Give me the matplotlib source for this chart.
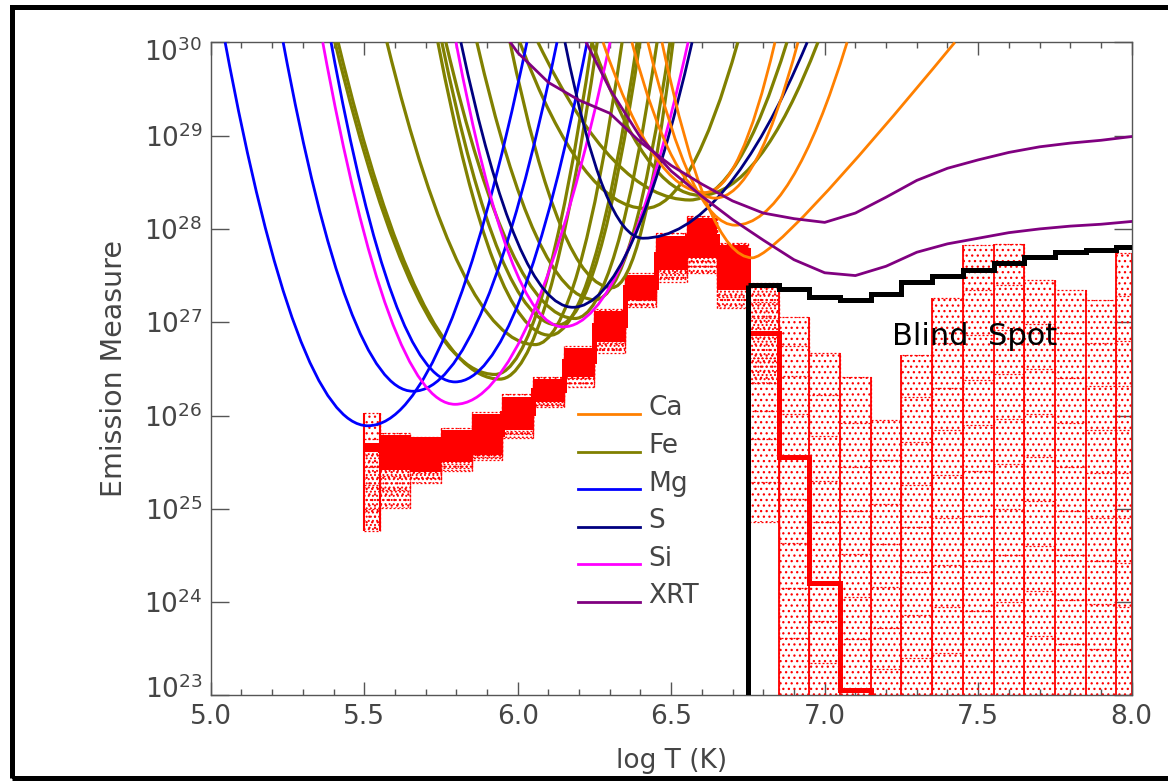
import numpy as np
import matplotlib
matplotlib.use("Agg")
import matplotlib.pyplot as plt
import matplotlib.transforms as mtrans
from matplotlib.path import Path
from matplotlib.patches import PathPatch, Rectangle
from matplotlib.lines import Line2D
from matplotlib.legend_handler import HandlerBase
from matplotlib.ticker import FixedLocator, MultipleLocator, NullLocator, FuncFormatter

# ---------------- data (log T, log EM) ----------------
bin_logT = [5.5, 5.6, 5.7, 5.8, 5.9, 6.0, 6.1, 6.2, 6.3, 6.4, 6.5, 6.6, 6.7,
            6.8, 6.9, 7.0, 7.1, 7.2, 7.3, 7.4, 7.5, 7.6, 7.7, 7.8, 7.9, 8.0]
# best-fit DEM (log EM); 22 = below plot range
dem_best = [25.66, 25.63, 25.58, 25.67, 25.80, 26.03, 26.27, 26.58, 26.97, 27.38, 27.73, 27.92, 27.77,
            26.88, 25.56, 24.21, 23.06, 22.0, 22.0, 22.0, 22.0, 22.0, 22.0, 22.0, 22.0, 22.0]
# dense core of the Monte-Carlo solutions (first 13 bins)
core_hi = [25.71, 25.79, 25.77, 25.84, 26.02, 26.20, 26.39, 26.72, 27.12, 27.51, 27.92, 28.12, 27.83]
core_lo = [25.61, 25.42, 25.39, 25.50, 25.58, 25.85, 26.15, 26.41, 26.79, 27.24, 27.56, 27.69, 27.34]
# Monte-Carlo solution levels per bin, from highest (q0) to lowest (q9); 22 = below range
mc_q0 = [26.03, 25.81, 25.77, 25.87, 26.04, 26.23, 26.41, 26.75, 27.14, 27.53, 27.96, 28.14, 27.85, 27.42, 27.06, 26.67, 26.41, 25.95, 26.65, 27.26, 27.83, 27.84, 27.45, 27.35, 27.24, 27.74]
mc_q1 = [25.90, 25.76, 25.72, 25.81, 25.98, 26.17, 26.37, 26.69, 27.08, 27.48, 27.88, 28.08, 27.80, 27.22, 26.74, 26.22, 25.92, 25.52, 26.20, 26.78, 27.35, 27.40, 26.98, 26.88, 26.78, 27.28]
mc_q2 = [25.75, 25.70, 25.66, 25.75, 25.90, 26.11, 26.33, 26.64, 27.03, 27.44, 27.82, 28.00, 27.74, 27.05, 26.42, 25.78, 25.45, 25.05, 25.72, 26.30, 26.86, 26.92, 26.50, 26.40, 26.32, 26.80]
mc_q3 = [25.70, 25.64, 25.60, 25.69, 25.83, 26.05, 26.29, 26.59, 26.98, 27.40, 27.76, 27.93, 27.67, 26.88, 26.02, 25.30, 24.98, 24.62, 25.25, 25.85, 26.38, 26.45, 26.02, 25.92, 25.84, 26.32]
mc_q4 = [25.66, 25.58, 25.54, 25.63, 25.76, 25.99, 26.25, 26.54, 26.93, 27.36, 27.70, 27.86, 27.60, 26.62, 25.56, 24.86, 24.52, 24.16, 24.80, 25.36, 25.90, 25.96, 25.55, 25.45, 25.38, 25.85]
mc_q5 = [25.62, 25.52, 25.48, 25.57, 25.69, 25.93, 26.21, 26.49, 26.88, 27.32, 27.64, 27.79, 27.53, 26.35, 25.10, 24.21, 24.05, 23.72, 24.32, 24.90, 25.40, 25.48, 25.08, 24.98, 24.90, 25.38]
mc_q6 = [25.45, 25.46, 25.43, 25.52, 25.62, 25.87, 26.17, 26.45, 26.83, 27.28, 27.58, 27.73, 27.46, 26.05, 24.63, 23.80, 23.60, 23.28, 23.86, 24.40, 24.92, 25.00, 24.60, 24.50, 24.44, 24.90]
mc_q7 = [25.25, 25.35, 25.38, 25.48, 25.58, 25.83, 26.14, 26.40, 26.78, 27.24, 27.53, 27.66, 27.38, 25.75, 24.15, 23.35, 23.06, 22.0, 23.40, 23.95, 24.44, 24.50, 24.12, 24.02, 23.98, 24.42]
mc_q8 = [25.00, 25.20, 25.33, 25.44, 25.55, 25.80, 26.11, 26.35, 26.72, 27.20, 27.48, 27.60, 27.27, 25.29, 23.62, 22.0, 22.0, 22.0, 22.0, 23.45, 23.90, 24.00, 23.64, 23.55, 23.50, 23.95]
mc_q9 = [24.76, 25.01, 25.28, 25.40, 25.52, 25.76, 26.09, 26.31, 26.67, 27.16, 27.43, 27.53, 27.15, 24.86, 22.0, 22.0, 22.0, 22.0, 22.0, 22.0, 22.0, 22.0, 22.0, 22.0, 22.0, 22.0]

# "Blind Spot" limit (bins 6.8 ... 8.0)
blind_logT = [6.8, 6.9, 7.0, 7.1, 7.2, 7.3, 7.4, 7.5, 7.6, 7.7, 7.8, 7.9, 8.0]
blind_em = [27.40, 27.36, 27.27, 27.24, 27.30, 27.43, 27.50, 27.56, 27.64, 27.70, 27.75, 27.77, 27.81]

# XRT EM loci (log T grid, log EM)
xrt1_logT = [5.9, 6.0, 6.1, 6.2, 6.3, 6.4, 6.5, 6.6, 6.7, 6.8, 6.9, 7.0, 7.1, 7.2, 7.3, 7.4, 7.5, 7.6, 7.7, 7.8, 7.9, 8.0]
xrt1_em = [30.35, 29.89, 29.57, 29.38, 29.24, 28.93, 28.68, 28.48, 28.30, 28.17, 28.11, 28.07, 28.17, 28.34, 28.52, 28.65, 28.74, 28.82, 28.88, 28.92, 28.95, 28.99]
xrt2_logT = [6.2, 6.3, 6.4, 6.5, 6.6, 6.7, 6.8, 6.9, 7.0, 7.1, 7.2, 7.3, 7.4, 7.5, 7.6, 7.7, 7.8, 7.9, 8.0]
xrt2_em = [30.15, 29.50, 28.98, 28.62, 28.35, 28.10, 27.88, 27.67, 27.53, 27.50, 27.60, 27.75, 27.84, 27.90, 27.96, 28.00, 28.03, 28.05, 28.08]

# EIS line EM loci: minimum (T0, EM0), log T where each branch reaches 1e30,
# and an optional extra point read on the high-T branch
ca_T0 = [6.610, 6.643, 6.708, 6.764]
ca_L0 = [28.39, 28.33, 28.04, 27.69]
ca_Tl = [6.278, 6.372, 6.424, 6.470]
ca_Tr = [6.838, 6.913, 7.073, 7.424]
ca_mid_r = [None, None, None, (7.137, 28.88)]

fe_T0 = [5.926, 5.942, 6.057, 6.105, 6.131, 6.187, 6.252, 6.307, 6.415, 6.561, 6.594]
fe_L0 = [26.44, 26.39, 26.76, 26.86, 26.97, 27.04, 27.24, 27.37, 28.22, 28.31, 28.36]
fe_Tl = [5.405, 5.415, 5.574, 5.740, 5.753, 5.766, 5.867, 5.975, 6.007, 6.066, 6.242]
fe_Tr = [6.242, 6.259, 6.340, 6.389, 6.398, 6.454, 6.496, 6.506, 6.717, 6.877, 6.978]

mg_T0 = [5.512, 5.659, 5.796]
mg_L0 = [25.89, 26.26, 26.36]
mg_Tl = [5.047, 5.236, 5.392]
mg_Tr = [6.030, 6.128, 6.226]

s_T0 = [6.180, 6.408]
s_L0 = [27.16, 27.90]
s_Tl = [5.815, 6.154]
s_Tr = [6.568, 6.943]

si_T0 = [5.796, 6.148]
si_L0 = [26.12, 26.95]
si_Tl = [5.365, 5.799]
si_Tr = [6.301, 6.555]

elements = ["Ca", "Fe", "Mg", "S", "Si", "XRT"]
colors = {"Ca": "#ff8000", "Fe": "#808000", "Mg": "#0000ff", "S": "#000080",
          "Si": "#ff00ff", "XRT": "#800080"}

# ---------------- figure ----------------
plt.rcParams["font.family"] = ["DejaVu Sans"]
plt.rcParams["mathtext.fontset"] = "dejavusans"
plt.rcParams["hatch.linewidth"] = 0.9
TXT = "#454545"

fig = plt.figure(figsize=(11.68, 7.81), dpi=100)
ax = fig.add_axes([0.1804, 0.1096, 0.7885, 0.8362])
ax.set_yscale("log")

centres = np.array(bin_logT)
edges = np.concatenate([[centres[0]], (centres[:-1] + centres[1:]) / 2, [centres[-1]]])
widths = np.diff(edges)
E = lambda a: 10.0 ** np.asarray(a, dtype=float)

dot = (0, (1.6, 1.6))
red = "#ff0000"

qs = [mc_q0, mc_q1, mc_q2, mc_q3, mc_q4, mc_q5, mc_q6, mc_q7, mc_q8, mc_q9]
qa = np.array(qs)
top = qa.max(axis=0)
bot = np.maximum(qa.min(axis=0), 22.0)
nc = len(core_hi)

# textured spread of the Monte-Carlo solutions
ax.bar(edges[:-1], E(top) - E(bot), bottom=E(bot), width=widths, align="edge",
       fill=False, hatch="...", edgecolor=red, linewidth=0, zorder=2)
# extra density near the solution core
ax.bar(edges[:nc], E(core_lo) - E(bot[:nc]), bottom=E(bot[:nc]), width=widths[:nc],
       align="edge", fill=False, hatch="....", edgecolor=red, linewidth=0, zorder=2)
ax.bar(edges[nc:nc + 1], E(top[nc:nc + 1]) - E(qa[5, nc:nc + 1]), bottom=E(qa[5, nc:nc + 1]),
       width=widths[nc:nc + 1], align="edge", fill=False, hatch="....",
       edgecolor=red, linewidth=0, zorder=2)
# dense core
ax.stairs(E(core_hi), edges[:nc + 1], baseline=E(core_lo), fill=True,
          color=red, lw=0, zorder=2)
# Monte-Carlo solutions
for q in qs:
    ax.stairs(E(q), edges, baseline=None, color=red, lw=0.9, ls=dot, zorder=2)
for i in range(len(edges)):
    idx = [i - 1, i] if 0 < i < len(centres) else ([0] if i == 0 else [len(centres) - 1])
    hi_v = max(top[j] for j in idx)
    lo_v = min(bot[j] for j in idx)
    solid = edges[i] > 6.8 or i <= 1
    ax.vlines(edges[i], E(lo_v), E(hi_v), color=red,
              lw=(1.5 if i <= 1 else 1.3) if solid else 0.9,
              ls="-" if solid else dot, zorder=2)
# best fit
ax.stairs(E(dem_best), edges, baseline=None, color=red, lw=3.6, zorder=3)


# EM loci curves (parabolic in log-log, drawn as quadratic Beziers)
def branch_ctrl(T0, L0, Tt, mid):
    if mid is None:
        return (T0 + Tt) / 2
    t = np.sqrt((mid[1] - L0) / (30.0 - L0))
    return (mid[0] - (1 - t) ** 2 * T0 - t ** 2 * Tt) / (2 * t * (1 - t))


def locus(T0, L0, Tl, Tr, c, lw, mid_r=None):
    verts = [(Tl, 1e30), (branch_ctrl(T0, L0, Tl, None), 10 ** L0), (T0, 10 ** L0),
             (branch_ctrl(T0, L0, Tr, mid_r), 10 ** L0), (Tr, 1e30)]
    codes = [Path.MOVETO, Path.CURVE3, Path.CURVE3, Path.CURVE3, Path.CURVE3]
    p = PathPatch(Path(verts, codes), facecolor="none", edgecolor=c, lw=lw,
                  zorder=4, transform=ax.transData)
    ax.add_patch(p)


groups = [("Fe", fe_T0, fe_L0, fe_Tl, fe_Tr, None, 2.3),
          ("Mg", mg_T0, mg_L0, mg_Tl, mg_Tr, None, 2.0),
          ("Si", si_T0, si_L0, si_Tl, si_Tr, None, 2.0),
          ("S", s_T0, s_L0, s_Tl, s_Tr, None, 2.0),
          ("Ca", ca_T0, ca_L0, ca_Tl, ca_Tr, ca_mid_r, 2.0)]
for name, T0s, L0s, Tls, Trs, mids, lw in groups:
    for k, (T0, L0, Tl, Tr) in enumerate(zip(T0s, L0s, Tls, Trs)):
        locus(T0, L0, Tl, Tr, colors[name], lw, None if mids is None else mids[k])

ax.plot(xrt1_logT, E(xrt1_em), color=colors["XRT"], lw=2.0, zorder=4)
ax.plot(xrt2_logT, E(xrt2_em), color=colors["XRT"], lw=2.0, zorder=4)

# blind spot limit
bc = np.array(blind_logT)
bedges = np.concatenate([[bc[0] - 0.05], (bc[:-1] + bc[1:]) / 2, [bc[-1]]])
ax.stairs(E(blind_em), bedges, baseline=None, color="black", lw=3.6, zorder=6)
ax.vlines(bedges[0], 1e23, E(blind_em[0]), color="black", lw=3.6, zorder=6)

ax.text(7.49, 10 ** 26.85, "Blind  Spot", ha="center", va="center",
        fontsize=22, color="black", zorder=7)


# legend: line drawn at the text baseline, as in the original
class BaselineLine(HandlerBase):
    def create_artists(self, legend, orig, xdescent, ydescent, width, height, fontsize, trans):
        y = (height - ydescent) / 2 - 0.30 * fontsize
        ln = Line2D([-xdescent, -xdescent + width], [y, y], color=orig.get_color(),
                    lw=orig.get_linewidth())
        ln.set_transform(trans)
        return [ln]


handles = [Line2D([], [], color=colors[e], lw=2.0) for e in elements]
leg = ax.legend(handles, elements, loc="upper left", bbox_to_anchor=(0.399, 0.4595),
                frameon=False, fontsize=19, handlelength=2.35, handletextpad=0.3,
                labelspacing=0.44, borderpad=0, borderaxespad=0, labelcolor=TXT,
                handler_map={Line2D: BaselineLine()})
leg.set_zorder(8)

# axes styling
ax.set_xlim(5.0, 8.0)
ax.set_ylim(1e23, 1e30)
ax.xaxis.set_major_locator(MultipleLocator(0.5))
ax.xaxis.set_minor_locator(MultipleLocator(0.1))
ax.xaxis.set_major_formatter(FuncFormatter(lambda v, p: f"{v:.1f}"))
ax.yaxis.set_major_locator(FixedLocator(10.0 ** np.arange(23, 31)))
ax.yaxis.set_minor_locator(NullLocator())
ax.yaxis.set_major_formatter(FuncFormatter(lambda v, p: rf"$10^{{{int(round(np.log10(v)))}}}$"))
ax.tick_params(which="both", direction="in", top=True, right=True, color="#555555",
               labelcolor=TXT, labelsize=19, width=1.0)
ax.tick_params(axis="x", which="major", length=9.5, pad=6)
ax.tick_params(axis="x", which="minor", length=4.5)
ax.tick_params(axis="y", which="major", length=13, pad=6)
for s in ax.spines.values():
    s.set_color("#555555")
    s.set_linewidth(1.0)
ax.set_xlabel("log T (K)", fontsize=19, color=TXT)
ax.set_ylabel("Emission Measure", fontsize=20.5, color=TXT)
ax.xaxis.set_label_coords(0.5, -0.080)
ax.yaxis.set_label_coords(-0.090, 0.5)

# keep the end labels of the y axis inside the axis range
yt = ax.yaxis.get_major_ticks()
yt[0].label1.set_transform(yt[0].label1.get_transform() +
                           mtrans.ScaledTranslation(0, 0.09, fig.dpi_scale_trans))
yt[-1].label1.set_transform(yt[-1].label1.get_transform() +
                            mtrans.ScaledTranslation(0, -0.07, fig.dpi_scale_trans))

# outer frame
fig.add_artist(Rectangle((11.5 / 1168, 3 / 781), 1.5, 771 / 781, transform=fig.transFigure,
                         fill=False, edgecolor="black", lw=3.6, clip_on=False))

fig.savefig("out.png", dpi=100)
